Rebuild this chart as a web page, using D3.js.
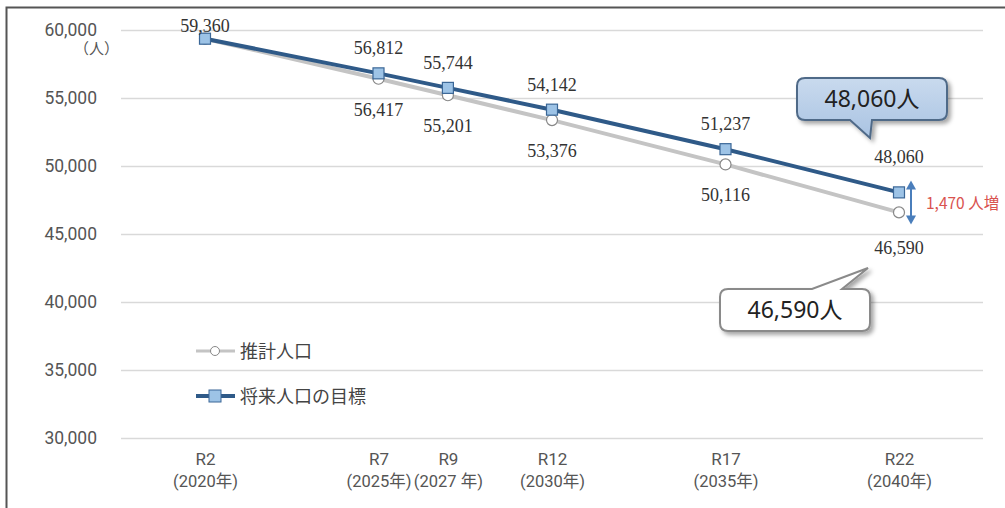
<!DOCTYPE html>
<html><head><meta charset="utf-8">
<script src="https://cdn.jsdelivr.net/npm/d3@7"></script>
<style>body{margin:0;background:#fff}svg{display:block}</style>
</head><body><svg id="c" width="1005" height="508"></svg>
<script>
const years = [2020, 2025, 2027, 2030, 2035, 2040];
const eraLabels = ["R2", "R7", "R9", "R12", "R17", "R22"];
const yearLabels = ["(2020年)", "(2025年)", "(2027 年)", "(2030年)", "(2035年)", "(2040年)"];
const estimate = [59360, 56417, 55201, 53376, 50116, 46590];
const target = [59360, 56812, 55744, 54142, 51237, 48060];
const yTicks = [30000, 35000, 40000, 45000, 50000, 55000, 60000];
const seriesNames = ["推計人口", "将来人口の目標"];
const calloutTarget = "48,060人";
const calloutEstimate = "46,590人";
const diffLabel = "1,470 人増";

const svg = d3.select("#c");
const x = d3.scaleLinear().domain([2020, 2040]).range([205, 899]);
const y = d3.scaleLinear().domain([30000, 60000]).range([438, 30]);
const fmt = d3.format(",");
const sans = "Roboto, 'Noto Sans CJK JP', sans-serif";
const cjk = "'Noto Sans CJK JP', sans-serif";
const serif = "'Liberation Serif', 'DejaVu Serif', serif";

const defs = svg.append("defs");
const f = defs.append("filter").attr("id","sh").attr("x","-20%").attr("y","-30%").attr("width","150%").attr("height","180%");
f.append("feDropShadow").attr("dx",3).attr("dy",3).attr("stdDeviation",2).attr("flood-color","#000").attr("flood-opacity",0.35);
const g1 = defs.append("linearGradient").attr("id","bg").attr("x1",0).attr("y1",0).attr("x2",0).attr("y2",1);
g1.append("stop").attr("offset","0%").attr("stop-color","#C9DAEE");
g1.append("stop").attr("offset","100%").attr("stop-color","#A9C3E2");

// frame
svg.append("path").attr("d","M6.5,508 V7.5 H1005").attr("fill","none").attr("stroke","#555").attr("stroke-width",2);

// y axis with gridlines
const yAxis = d3.axisLeft(y).tickValues(yTicks).tickFormat(fmt).tickSize(-(983-121)).tickPadding(24);
const ga = svg.append("g").attr("transform","translate(121,0)").call(yAxis);
ga.select(".domain").remove();
ga.selectAll(".tick line").attr("stroke","#D9D9D9").attr("stroke-width",1.5);
ga.selectAll(".tick text").attr("fill","#555").attr("font-family",sans).attr("font-size",17.5).attr("x",-24);
svg.append("text").attr("x",119).attr("y",54).attr("text-anchor","end").attr("fill","#555")
  .attr("font-family",cjk).attr("font-size",15).text("（人）");

// x axis labels
const xAxis = d3.axisBottom(x).tickValues(years).tickSize(0).tickFormat((d,i)=>eraLabels[i]);
const gx = svg.append("g").attr("transform","translate(0,450)").call(xAxis);
gx.select(".domain").remove();
gx.selectAll(".tick text").attr("fill","#555").attr("font-family",sans).attr("font-size",17)
  .each(function(d,i){
    d3.select(this).append("tspan").attr("x",0).attr("dy","1.35em").attr("font-size",16.5).text(yearLabels[i]);
  });

const line = d3.line().x((d,i)=>x(years[i])).y(d=>y(d));
svg.append("path").datum(estimate).attr("d",line).attr("fill","none").attr("stroke","#C4C4C4").attr("stroke-width",4);
svg.append("path").datum(target).attr("d",line).attr("fill","none").attr("stroke","#2F5A88").attr("stroke-width",4);

svg.selectAll(".ec").data(estimate).enter().append("circle")
  .attr("cx",(d,i)=>x(years[i])).attr("cy",d=>y(d)).attr("r",5.5)
  .attr("fill","#fff").attr("stroke","#888").attr("stroke-width",1.2);
svg.selectAll(".ts").data(target).enter().append("rect")
  .attr("x",(d,i)=>x(years[i])-5.5).attr("y",d=>y(d)-5.5).attr("width",11).attr("height",11)
  .attr("fill","#9DC3E6").attr("stroke","#3B6797").attr("stroke-width",1.2);

svg.selectAll(".tl").data(target).enter().append("text")
  .attr("x",(d,i)=>x(years[i])).attr("y",(d,i)=>y(d) + (i===0 ? -7 : i===target.length-1 ? -29 : -19))
  .attr("text-anchor","middle").attr("fill","#333").attr("font-family",serif).attr("font-size",18).text(d=>fmt(d));
svg.selectAll(".el").data(estimate).enter().filter((d,i)=>i>0).append("text")
  .attr("x",(d,i)=>x(years[i+1])).attr("y",(d,i)=>y(d) + (i===estimate.length-2 ? 42 : 37))
  .attr("text-anchor","middle").attr("fill","#333").attr("font-family",serif).attr("font-size",18).text(d=>fmt(d));

// legend
const lg = svg.append("g").attr("font-family",cjk).attr("font-size",18).attr("fill","#444");
lg.append("line").attr("x1",196).attr("x2",235).attr("y1",351).attr("y2",351).attr("stroke","#C4C4C4").attr("stroke-width",3);
lg.append("circle").attr("cx",215).attr("cy",351).attr("r",4.5).attr("fill","#fff").attr("stroke","#888");
lg.append("text").attr("x",240).attr("y",358).text(seriesNames[0]);
lg.append("line").attr("x1",196).attr("x2",235).attr("y1",396).attr("y2",396).attr("stroke","#2F5A88").attr("stroke-width",4);
lg.append("rect").attr("x",209).attr("y",390).attr("width",12).attr("height",12).attr("fill","#9DC3E6").attr("stroke","#3B6797");
lg.append("text").attr("x",240).attr("y",403).text(seriesNames[1]);

// callouts
function callout(x0,y0,w,h,r,tail,fill,stroke,txt){
  const [a,b,tx,ty,side] = tail;
  let p = `M${x0+r},${y0}`;
  if(side==="top"){ p += ` H${a} L${tx},${ty} L${b},${y0}`; }
  p += ` H${x0+w-r} Q${x0+w},${y0} ${x0+w},${y0+r} V${y0+h-r} Q${x0+w},${y0+h} ${x0+w-r},${y0+h}`;
  if(side==="bottom"){ p += ` H${b} L${tx},${ty} L${a},${y0+h}`; }
  p += ` H${x0+r} Q${x0},${y0+h} ${x0},${y0+h-r} V${y0+r} Q${x0},${y0} ${x0+r},${y0} Z`;
  svg.append("path").attr("d",p).attr("fill",fill).attr("stroke",stroke).attr("stroke-width",2).attr("filter","url(#sh)");
  svg.append("text").attr("x",x0+w/2).attr("y",y0+h/2+8).attr("text-anchor","middle")
    .attr("font-family","'Noto Sans', 'Noto Sans CJK JP', sans-serif").attr("font-size",23).attr("fill","#222").text(txt);
}
callout(797,78,150,42,8,[850,872,870,138,"bottom"],"url(#bg)","#506A88",calloutTarget);
callout(720,289,150,42,8,[812,842,868,268,"top"],"#fff","#8A8A8A",calloutEstimate);

// difference arrow
const ax = 911, ay1 = y(target[5]) - 12, ay2 = y(estimate[5]) + 12;
svg.append("line").attr("x1",ax).attr("x2",ax).attr("y1",ay1+6).attr("y2",ay2-6).attr("stroke","#4A7EBB").attr("stroke-width",2);
svg.append("path").attr("d",`M${ax},${ay1} L${ax-5},${ay1+9} L${ax+5},${ay1+9} Z`).attr("fill","#4A7EBB");
svg.append("path").attr("d",`M${ax},${ay2} L${ax-5},${ay2-9} L${ax+5},${ay2-9} Z`).attr("fill","#4A7EBB");
svg.append("text").attr("x",926).attr("y",209).attr("fill","#D9534F")
  .attr("font-family",cjk).attr("font-size",15.5).text(diffLabel);
</script></body></html>
